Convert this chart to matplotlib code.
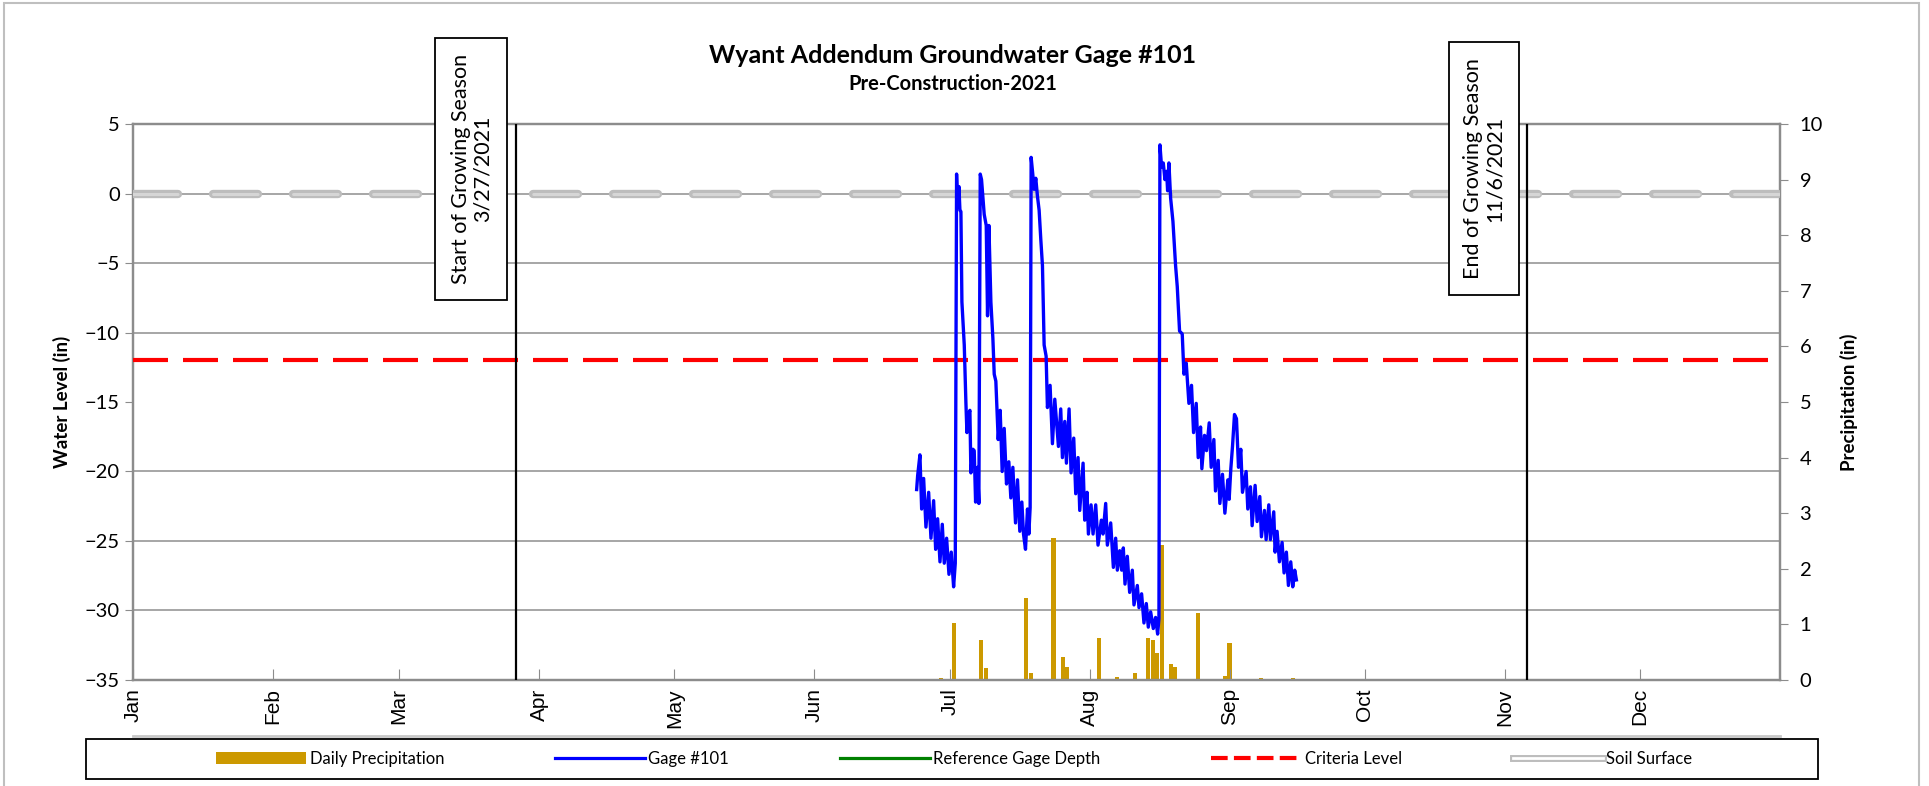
import matplotlib
matplotlib.use('Agg')
import matplotlib.pyplot as plt
import numpy as np
from matplotlib.patches import Rectangle, Patch
from matplotlib.lines import Line2D

plt.rcParams['font.family'] = ['Lato', 'DejaVu Sans']

# Eje de tiempo: dia del año 2021 (0 = 1 de enero)
months = ['Jan', 'Feb', 'Mar', 'Apr', 'May', 'Jun', 'Jul', 'Aug', 'Sep', 'Oct', 'Nov', 'Dec']
month_start = [0, 31, 59, 90, 120, 151, 181, 212, 243, 273, 304, 334]

# Gage #101 (pulgadas)
gage_day = [173.67, 173.89, 174.40, 174.78, 175.22, 175.73, 176.33, 176.84, 177.43, 177.88,
            178.32, 178.84, 179.35, 179.79, 180.31, 180.83, 181.34, 181.86, 182.23, 182.52,
            182.74, 183.04, 183.26, 183.48, 183.70, 184.22, 184.59, 184.81, 185.18, 185.47,
            185.69, 186.14, 186.43, 186.73, 187.17, 187.46, 187.76, 188.05, 188.64, 189.09,
            189.38, 189.68, 190.12, 190.56, 190.86, 191.22, 191.74, 192.18, 192.62, 193.07,
            193.58, 194.10, 194.54, 194.99, 195.58, 196.02, 196.53, 196.98, 197.35, 197.79,
            198.23, 198.53, 198.82, 199.04, 199.40, 199.70, 200.07, 200.44, 200.81, 201.18,
            201.55, 201.92, 202.36, 202.65, 203.24, 203.76, 204.28, 205.09, 205.60, 205.97,
            206.49, 206.86, 207.45, 207.89, 208.48, 208.92, 209.44, 209.81, 210.55, 210.91,
            211.43, 211.73, 212.32, 212.76, 213.35, 213.86, 214.60, 214.97, 215.56, 215.93,
            216.67, 217.26, 217.77, 218.14, 218.66, 219.10, 219.47, 219.84, 220.35, 220.87,
            221.46, 221.83, 222.57, 222.94, 223.52, 224.04, 224.56, 225.00, 225.52, 226.11,
            226.62, 227.07, 227.36, 227.58, 227.95, 228.32, 228.69, 229.06, 229.28, 229.57,
            229.94, 230.46, 231.05, 231.42, 231.93, 232.52, 232.90, 233.41, 234.00, 234.58,
            235.03, 235.62, 236.06, 236.58, 236.87, 237.46, 237.90, 238.50, 238.94, 239.53,
            239.89, 240.49, 240.86, 241.44, 241.97, 242.63, 242.92, 243.29, 243.66, 244.10,
            244.54, 244.99, 245.50, 245.87, 246.68, 247.05, 247.64, 248.01, 248.67, 249.12,
            249.71, 250.07, 250.74, 251.11, 251.70, 252.07, 252.80, 253.10, 253.54, 254.06,
            254.65, 255.09, 255.60, 256.05, 256.57, 257.01, 257.45, 257.82]
gage_level = [-21.3, -20.3, -18.8, -22.7, -20.5, -24.0, -21.5, -24.8, -22.1, -25.6,
              -23.4, -26.5, -23.8, -26.6, -24.8, -27.4, -25.8, -28.3, -26.6, 1.4,
              -1.0, 0.5, -1.2, -1.3, -7.8, -10.9, -15.1, -17.2, -15.9, -15.6,
              -20.1, -18.4, -18.5, -22.2, -19.7, -22.3, 1.4, 1.0, -1.5, -2.3,
              -8.8, -2.3, -7.8, -10.4, -13.0, -13.5, -17.7, -15.6, -20.0, -16.9,
              -20.9, -19.3, -21.9, -19.7, -23.7, -20.6, -24.3, -22.2, -24.5, -25.6,
              -22.7, -24.5, -22.6, 2.6, 1.4, 0.3, 1.1, -0.2, -1.2, -3.3,
              -5.2, -10.9, -11.7, -15.4, -13.8, -18.0, -14.8, -18.2, -15.5, -19.0,
              -16.4, -19.4, -15.5, -20.1, -17.6, -21.6, -19.0, -22.8, -19.4, -23.5,
              -21.5, -24.5, -22.4, -24.5, -22.4, -25.3, -23.5, -24.5, -22.3, -25.3,
              -23.7, -26.9, -24.8, -27.1, -25.7, -27.1, -25.5, -28.1, -26.1, -28.7,
              -27.1, -29.6, -28.2, -29.8, -28.8, -30.9, -29.5, -31.2, -30.1, -31.3,
              -30.5, -31.7, -30.6, 3.5, 1.9, 2.2, 1.0, 1.6, 0.2, 2.2,
              -0.3, -2.0, -5.2, -6.7, -9.9, -10.1, -13.0, -12.2, -15.1, -13.8,
              -17.2, -15.1, -19.0, -16.8, -19.8, -17.4, -18.5, -16.5, -19.7, -17.7,
              -21.4, -19.2, -22.3, -20.2, -23.0, -20.6, -22.0, -19.8, -18.2, -15.9,
              -16.2, -19.7, -18.4, -21.5, -20.0, -22.7, -21.1, -23.9, -21.0, -23.6,
              -21.8, -24.7, -22.8, -24.9, -22.4, -24.9, -22.9, -25.8, -24.3, -26.5,
              -25.1, -27.3, -25.8, -28.2, -26.5, -28.3, -27.1, -27.8]

# Precipitacion diaria (pulgadas)
rain_day = [177, 179, 182, 188, 189, 198, 199, 204, 205, 206, 207, 208, 214, 218, 222,
            225, 226, 227, 228, 230, 231, 236, 237, 242, 243, 250, 257]
rain_in = [0.02, 0.04, 1.03, 0.72, 0.22, 1.48, 0.12, 2.56, 0.02, 0.42, 0.24, 0.02, 0.76,
           0.05, 0.12, 0.75, 0.71, 0.48, 2.42, 0.28, 0.24, 1.20, 0.02, 0.07, 0.66, 0.03, 0.03]

criteria_level = -12
soil_surface = 0
season_start = 85   # 3/27/2021
season_end = 309    # 11/6/2021

fig = plt.figure(figsize=(19.29, 7.86), dpi=100)
ax = fig.add_axes([0.0689, 0.1349, 0.8539, 0.7073])
ax2 = ax.twinx()
ax.set_zorder(2)
ax.patch.set_visible(False)

grid_c = '#a6a6a6'
spine_c = '#8c8c8c'

# Precipitacion en el eje derecho
ax2.bar(rain_day, rain_in, width=0.9, color='#cc9900', zorder=2)
ax2.set_ylim(0, 10)
ax2.set_yticks(range(0, 11))
ax2.set_yticks(np.linspace(0, 10, 9), minor=True)
ax2.grid(which='minor', axis='y', color=grid_c, lw=1.4, zorder=0)
ax2.tick_params(axis='y', which='minor', length=0)
ax2.tick_params(axis='y', which='major', direction='out', length=6, color=spine_c,
                labelsize=14.5, pad=8)
ax2.set_ylabel('Precipitation (in)', fontsize=13.5, fontweight='bold', labelpad=12)

# Nivel de agua
ax.plot(gage_day, gage_level, color='#0000ff', lw=2.4, zorder=4)
ax.axhline(criteria_level, color='#ff0000', lw=3, dashes=(8.4, 3.6), zorder=3)
ax.axhline(soil_surface, color='#bdbdbd', lw=6, dashes=(5.4, 4.2),
           dash_capstyle='round', zorder=3)
ax.axhline(soil_surface, color='#d6d6d6', lw=2.2, dashes=(14.6, 11.6),
           dash_capstyle='round', zorder=3)
ax.axvline(season_start, color='black', lw=1.6, zorder=5)
ax.axvline(season_end, color='black', lw=1.6, zorder=5)

ax.set_xlim(0, 365)
ax.set_ylim(-35, 5)
ax.set_yticks(range(-35, 6, 5))
ax.set_xticks(month_start)
ax.set_xticklabels(months, rotation=90, fontsize=15, family=['Liberation Sans', 'DejaVu Sans'])
ax.tick_params(axis='x', direction='in', length=8, color=spine_c, pad=6)
ax.tick_params(axis='y', direction='out', length=6, color=spine_c, labelsize=14.5)
ax.set_ylabel('Water Level (in)', fontsize=13.5, fontweight='bold', labelpad=10)
for a in (ax, ax2):
    for s in a.spines.values():
        s.set_color(spine_c)
        s.set_linewidth(1.6)

# Cajas de texto de la temporada de crecimiento
ax.add_patch(Rectangle((67.0, -7.66), 16.0, 18.86, facecolor='white', edgecolor='black',
                       lw=1.3, clip_on=False, zorder=6))
ax.text(75.0, 1.77, 'Start of Growing Season\n3/27/2021', rotation=90, ha='center',
        va='center', multialignment='center', fontsize=15.5, linespacing=1.1, zorder=7)
ax.add_patch(Rectangle((291.6, -7.3), 15.5, 18.2, facecolor='white', edgecolor='black',
                       lw=1.3, clip_on=False, zorder=6))
ax.text(299.35, 1.8, 'End of Growing Season\n11/6/2021', rotation=90, ha='center',
        va='center', multialignment='center', fontsize=15.5, linespacing=1.1, zorder=7)

# Titulo
fig.text(0.494, 0.930, 'Wyant Addendum Groundwater Gage #101', ha='center', va='center',
         fontsize=18, fontweight='bold')
fig.text(0.494, 0.893, 'Pre-Construction-2021', ha='center', va='center',
         fontsize=14.5, fontweight='bold')

# Leyenda
handles = [Patch(facecolor='#cc9900'),
           Line2D([], [], color='#0000ff', lw=2.3),
           Line2D([], [], color='#008000', lw=2.3),
           Line2D([], [], color='#ff0000', lw=3, dashes=(4, 1.5)),
           (Line2D([], [], color='#bdbdbd', lw=5), Line2D([], [], color='white', lw=2))]
labels = ['Daily Precipitation', 'Gage #101', 'Reference Gage Depth', 'Criteria Level', 'Soil Surface']
fig.legend(handles, labels, loc='center', bbox_to_anchor=(0.4946, 0.0345), ncol=5,
           frameon=False, handlelength=5.4, handletextpad=0.2, columnspacing=6.65,
           prop={'family': ['Lato', 'DejaVu Sans'], 'size': 12})
fig.add_artist(Rectangle((0.0446, 0.009), 0.898, 0.051, transform=fig.transFigure,
                         fill=False, ec='black', lw=1.3))
fig.add_artist(Line2D([0.0689, 0.9228], [0.0636, 0.0636], transform=fig.transFigure,
                      color='#c8c8c8', lw=2))
fig.add_artist(Rectangle((0.002, -0.05), 0.993, 1.046, transform=fig.transFigure,
                         fill=False, ec='#bfbfbf', lw=1.5))

fig.savefig('out.png', dpi=100)
